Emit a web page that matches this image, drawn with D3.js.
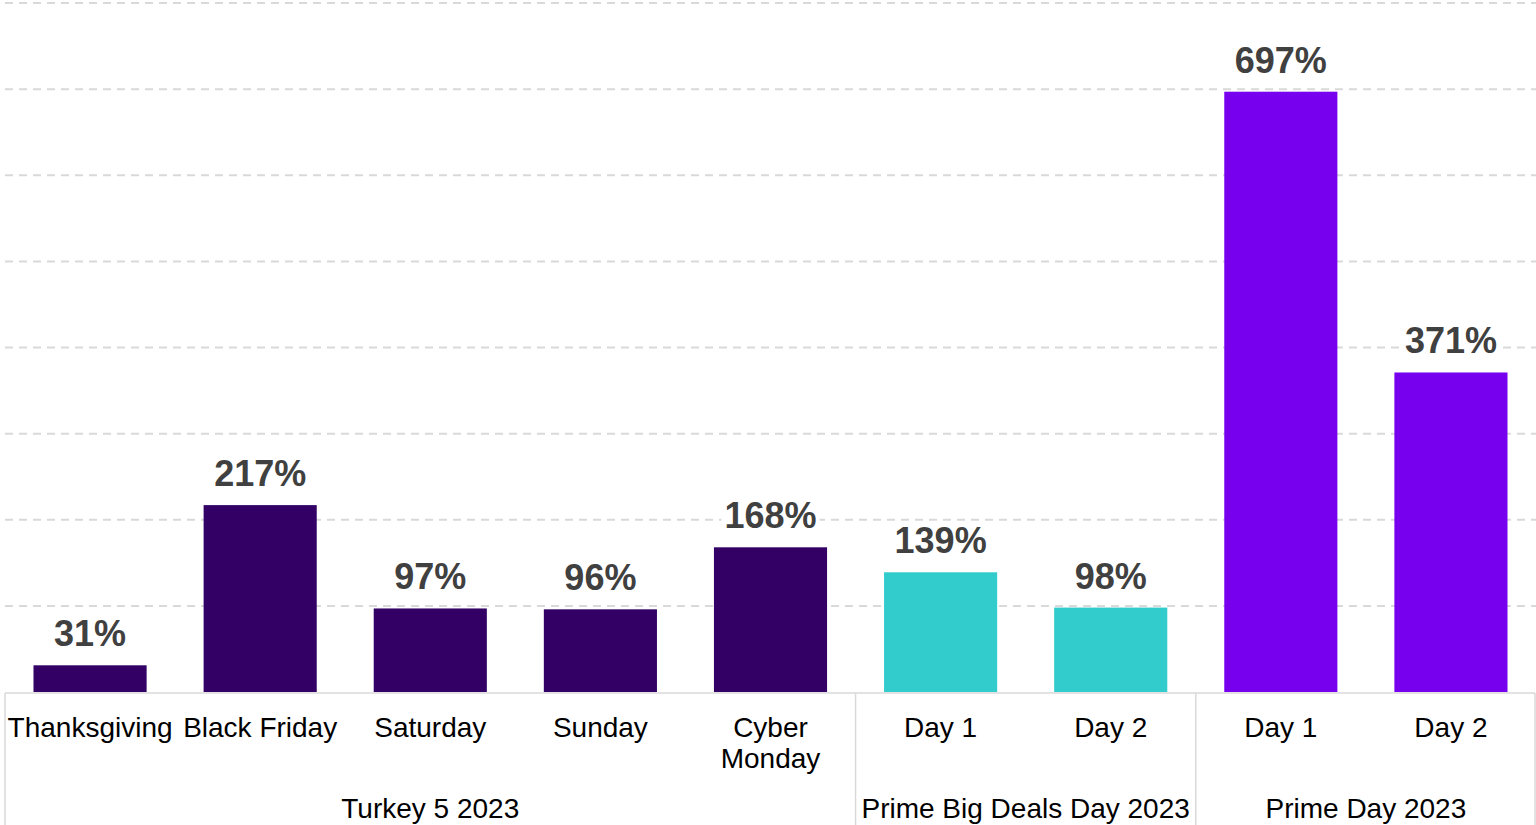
<!DOCTYPE html>
<html>
<head>
<meta charset="utf-8">
<script src="https://cdn.jsdelivr.net/npm/d3@7"></script>
<style>
  html, body { margin: 0; padding: 0; background: #fff; overflow: hidden; }
  svg { display: block; font-family: "Liberation Sans", Arial, sans-serif; }
</style>
</head>
<body>
<div id="chart"></div>
<script>
// chart data
const categories = ['Thanksgiving', 'Black Friday', 'Saturday', 'Sunday', 'Cyber Monday', 'Day 1', 'Day 2', 'Day 1', 'Day 2'];
const values = [31, 217, 97, 96, 168, 139, 98, 697, 371];
const groupNames = ['Turkey 5 2023', 'Prime Big Deals Day 2023', 'Prime Day 2023'];
const groupOf = [0, 0, 0, 0, 0, 1, 1, 2, 2];
const groupColors = ['#330066', '#33CCCC', '#7700EE'];
const gridTicks = [100, 200, 300, 400, 500, 600, 700, 800];

const width = 1536, height = 825;
const margin = { top: 3, right: 0, bottom: 133, left: 5 };

const svg = d3.select('#chart').append('svg')
    .attr('width', width)
    .attr('height', height);

const idx = d3.range(categories.length);

const xScale = d3.scaleBand()
    .domain(idx)
    .range([margin.left, width - margin.right])
    .paddingInner(0.335)
    .paddingOuter(0.1675);

const yScale = d3.scaleLinear()
    .domain([0, 800])
    .range([height - margin.bottom - 0, margin.top]);

const y0 = yScale(0);

// dashed gridlines
svg.append('g').selectAll('line').data(gridTicks).enter()
    .append('line')
    .attr('x1', margin.left)
    .attr('x2', width)
    .attr('y1', d => yScale(d))
    .attr('y2', d => yScale(d))
    .attr('stroke', '#d9d9d9')
    .attr('stroke-width', 2)
    .attr('stroke-dasharray', '8,6');

// bars
svg.append('g').selectAll('rect').data(idx).enter()
    .append('rect')
    .attr('x', i => xScale(i))
    .attr('width', xScale.bandwidth())
    .attr('y', i => yScale(values[i]))
    .attr('height', i => y0 - yScale(values[i]))
    .attr('fill', i => groupColors[groupOf[i]]);

// value labels with a white box so the gridlines break round them
const labels = svg.append('g').selectAll('g').data(idx).enter()
    .append('g')
    .attr('transform', i => `translate(${xScale(i) + xScale.bandwidth() / 2},${yScale(values[i]) - 19})`);

const labelText = labels.append('text')
    .attr('text-anchor', 'middle')
    .attr('font-size', 36)
    .attr('font-weight', 'bold')
    .attr('fill', '#404040')
    .text(i => values[i] + '%');

labelText.each(function () {
    const bb = this.getBBox();
    d3.select(this.parentNode).insert('rect', 'text')
        .attr('x', bb.x - 3)
        .attr('y', bb.y + 2)
        .attr('width', bb.width + 6)
        .attr('height', bb.height - 2)
        .attr('fill', '#fff');
});

// category axis frame
const axis = svg.append('g').attr('stroke', '#d9d9d9').attr('stroke-width', 1.5);
axis.append('line')
    .attr('x1', margin.left).attr('x2', width - 1)
    .attr('y1', y0 + 1).attr('y2', y0 + 1);

const step = xScale.step();
const groupBounds = groupNames.map((g, gi) => {
    const members = idx.filter(i => groupOf[i] === gi);
    const left = xScale(members[0]) - xScale.paddingInner() * step / 2;
    const right = xScale(members[members.length - 1]) + xScale.bandwidth() + xScale.paddingInner() * step / 2;
    return [left, right];
});
const splits = [groupBounds[0][0]].concat(groupBounds.map(b => b[1]));
axis.selectAll('line.sep').data(splits).enter()
    .append('line')
    .attr('class', 'sep')
    .attr('x1', d => Math.min(d, width - 1)).attr('x2', d => Math.min(d, width - 1))
    .attr('y1', y0 + 1).attr('y2', height);

// category labels
const catText = svg.append('g').selectAll('text').data(idx).enter()
    .append('text')
    .attr('text-anchor', 'middle')
    .attr('font-size', 28)
    .attr('fill', '#000')
    .attr('x', i => xScale(i) + xScale.bandwidth() / 2)
    .attr('y', y0 + 45);

catText.each(function (i) {
    const name = categories[i];
    const lines = name === 'Cyber Monday' ? ['Cyber', 'Monday'] : [name];
    const sel = d3.select(this);
    lines.forEach((l, k) => {
        sel.append('tspan')
            .attr('x', xScale(i) + xScale.bandwidth() / 2)
            .attr('dy', k === 0 ? 0 : 31)
            .text(l);
    });
});

// group labels
svg.append('g').selectAll('text').data(groupNames).enter()
    .append('text')
    .attr('text-anchor', 'middle')
    .attr('font-size', 28)
    .attr('fill', '#000')
    .attr('x', (d, gi) => (groupBounds[gi][0] + groupBounds[gi][1]) / 2)
    .attr('y', y0 + 126)
    .text(d => d);
</script>
</body>
</html>
